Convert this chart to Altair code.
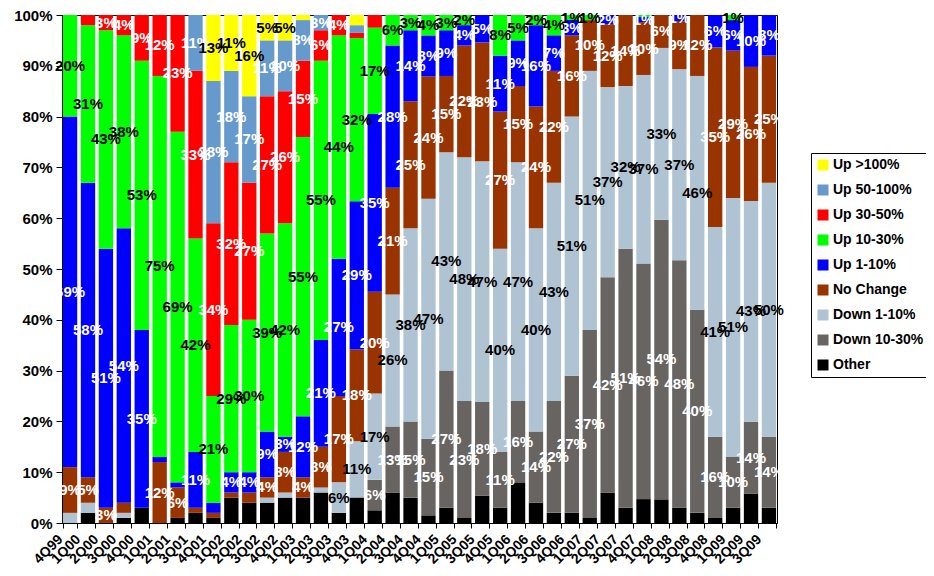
import altair as alt
import pandas as pd

quarters = ["4Q99", "1Q00", "2Q00", "3Q00", "4Q00", "1Q01", "2Q01", "3Q01", "4Q01",
            "1Q02", "2Q02", "3Q02", "4Q02", "1Q03", "2Q03", "3Q03", "4Q03",
            "1Q04", "2Q04", "3Q04", "4Q04", "1Q05", "2Q05", "3Q05", "4Q05",
            "1Q06", "2Q06", "3Q06", "4Q06", "1Q07", "2Q07", "3Q07", "4Q07",
            "1Q08", "2Q08", "3Q08", "4Q08", "1Q09", "2Q09", "3Q09"]

# shares (%) per quarter, bottom of stack first
other = [0, 2, 0, 1, 3, 0, 1, 2, 1, 5,
         4, 4, 5, 5, 6, 2, 5, 2.5, 6, 5,
         1.5, 3, 1, 5.4, 3, 8, 4, 2, 2, 1,
         6, 3, 4.7, 4.6, 3, 2, 1, 3, 5.8, 3]
down_10_30 = [0, 0, 0, 0, 0, 0, 0, 0, 0, 0,
              0, 0, 0, 0, 0, 0, 0, 6, 13, 15,
              15, 27, 23, 18.4, 11, 16, 14, 22, 27, 37,
              42.4, 51, 46.4, 54.4, 48.4, 40, 16, 10, 14.1, 14]
down_1_10 = [2, 2, 0, 1, 0, 0, 0, 0, 0, 0,
             0, 1, 1, 0, 1, 6, 11, 17, 26, 38,
             47, 43, 48, 47.4, 40, 47, 40, 43, 51, 51,
             37.4, 32, 37.1, 33.4, 37.4, 46, 41.4, 51, 43.4, 50]
no_change = [9, 5, 3, 2, 0, 12, 6, 1, 1, 1,
             2, 4, 8, 4, 8, 17, 18, 20, 21, 25,
             24, 15, 22, 23.4, 27, 15, 24, 22, 16, 10,
             12.4, 14, 10.4, 6.4, 9.4, 12, 35.4, 29, 26.4, 25]
up_1_10 = [69, 58, 51, 54, 35, 1, 1, 11, 2, 4,
           4, 9, 3, 12, 21, 27, 29, 35, 28, 14,
           8, 9, 4, 5.4, 11, 9, 16, 7, 3, 0,
           1.8, 0, 1.0, 0, 1.2, 0, 6.4, 6, 10.2, 8]
up_10_30 = [20, 31, 43, 38, 53, 75, 69, 42, 21, 29,
            30, 39, 42, 55, 55, 44, 32, 17, 6, 3,
            4, 3, 2, 0, 8, 5, 2, 4, 1, 1,
            0, 0, 0.4, 0, 0, 0, 0, 1, 0, 0]
up_30_50 = [0, 2, 3, 4, 9, 12, 23, 33, 34, 32,
            27, 27, 26, 15, 6, 4, 1, 2.5, 0, 0,
            0, 0, 0, 0, 0, 0, 0, 0, 0, 0,
            0, 0, 0, 0, 0, 0, 0, 0, 0, 0]
up_50_100 = [0, 0, 0, 0, 0, 0, 0, 11, 28, 18,
             17, 11, 10, 8, 3, 0, 1.5, 0, 0, 0,
             0, 0, 0, 0, 0, 0, 0, 0, 0, 0,
             0, 0, 0, 0, 0, 0, 0, 0, 0, 0]
up_100 = [0, 0, 0, 0, 0, 0, 0, 0, 13, 11,
          16, 5, 5, 1, 0, 0, 2, 0, 0, 0,
          0, 0, 0, 0, 0, 0, 0, 0, 0, 0,
          0, 0, 0, 0, 0, 0, 0, 0, 0, 0]

series_names = ["Other", "Down 10-30%", "Down 1-10%", "No Change", "Up 1-10%",
                "Up 10-30%", "Up 30-50%", "Up 50-100%", "Up >100%"]
series_values = [other, down_10_30, down_1_10, no_change, up_1_10,
                 up_10_30, up_30_50, up_50_100, up_100]
series_colors = ["#000000", "#686461", "#B0C3D3", "#993300", "#0000FF",
                 "#00FF00", "#FF0000", "#6699CC", "#FFFF00"]
dark_label_series = ["Up >100%", "Up 10-30%", "Down 1-10%"]

rows = []
for o, (name, vals) in enumerate(zip(series_names, series_values)):
    for i, (q, v) in enumerate(zip(quarters, vals)):
        if v > 0:
            show = name != "Other" and (v >= 3 or (i >= 21 and v >= 1))
            rows.append({"quarter": q, "idx": i, "series": name, "ord": o,
                         "value": v, "show": show})
df = pd.DataFrame(rows)

legend_order = series_names[::-1]
legend_colors = series_colors[::-1]

FONT = "Liberation Sans"

base = alt.Chart(df).transform_stack(
    stack="value",
    groupby=["quarter"],
    as_=["y0", "y1"],
    offset="normalize",
    sort=[alt.SortField("ord", order="ascending")],
)

bars = base.mark_bar().encode(
    x=alt.X("quarter:N", sort=quarters, title=None,
            scale=alt.Scale(paddingInner=0.2, paddingOuter=0.05),
            axis=alt.Axis(labelAngle=-45, labelAlign="right", labelBaseline="middle",
                          labelFontSize=14, labelPadding=9, labelOffset=-10,
                          tickBand="extent", tickSize=5, labelOverlap=False)),
    y=alt.Y("y0:Q", title=None, scale=alt.Scale(domain=[0, 1], nice=False),
            axis=alt.Axis(format=".0%", values=[i / 10 for i in range(11)],
                          labelFontSize=15, tickSize=6, labelPadding=4, grid=False)),
    y2="y1:Q",
    color=alt.Color("series:N",
                    scale=alt.Scale(domain=legend_order, range=legend_colors),
                    legend=alt.Legend(orient="none", legendX=749, legendY=138, title=None,
                                      symbolType="square", symbolSize=121,
                                      symbolStrokeWidth=0, labelFontSize=14,
                                      labelFont=FONT, labelFontWeight="bold",
                                      labelColor="black", rowPadding=11, padding=5,
                                      strokeColor="black", fillColor="white",
                                      labelOffset=3, labelLimit=200)),
)

labels = base.transform_calculate(
    mid="(datum.y0 + datum.y1) / 2",
    label="format(datum.value, '.0f') + '%'",
).transform_filter("datum.show").mark_text(
    font=FONT, fontWeight="bold", fontSize=15, align="center", baseline="middle"
).encode(
    x=alt.X("quarter:N", sort=quarters, title=None),
    y=alt.Y("mid:Q", title=None),
    text="label:N",
    color=alt.condition(alt.FieldOneOfPredicate(field="series", oneOf=dark_label_series),
                        alt.value("black"), alt.value("white")),
)

chart = alt.layer(bars, labels).properties(
    width=715, height=508,
    autosize=alt.AutoSizeParams(type="none"),
    padding={"left": 54, "top": 7, "right": 149, "bottom": 45},
).configure_view(
    stroke="black", strokeWidth=1
).configure_axis(
    labelFont=FONT, labelFontWeight="bold", labelColor="black",
    domainColor="black", tickColor="black", domainWidth=1
)

chart.save("out.html", embed_options={"renderer": "svg", "actions": False})
